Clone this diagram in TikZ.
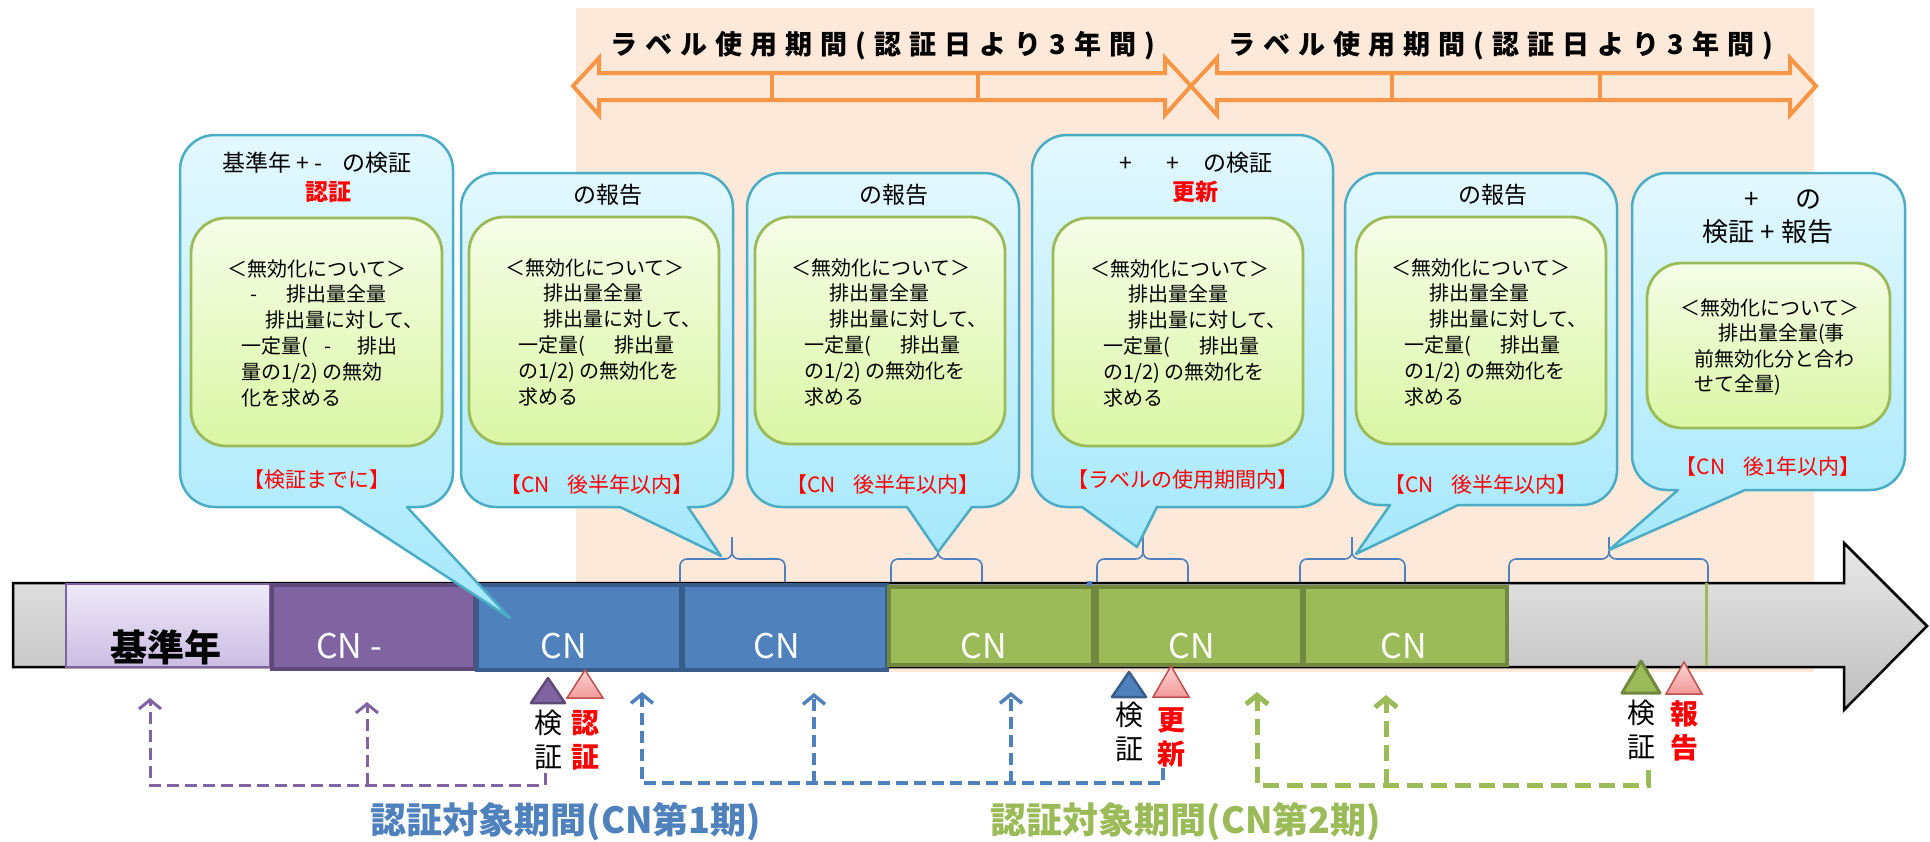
\documentclass[tikz,border=0pt]{standalone}
\usepackage{fontspec}
\setmainfont{Noto Sans CJK JP}
\usetikzlibrary{arrows.meta}
\definecolor{peach}{HTML}{FDE9D9}
\definecolor{orng}{HTML}{F79646}
\definecolor{bubline}{HTML}{4BACC6}
\definecolor{bubtop}{HTML}{E3F8FE}
\definecolor{bubbot}{HTML}{A5E8FB}
\definecolor{inline}{HTML}{9BBB59}
\definecolor{intop}{HTML}{F6FDE8}
\definecolor{inbot}{HTML}{DAF6A4}
\definecolor{purp}{HTML}{8064A2}
\definecolor{purpd}{HTML}{5F497A}
\definecolor{lpurtop}{HTML}{EFE9F8}
\definecolor{lpurbot}{HTML}{CBBDE3}
\definecolor{blu}{HTML}{4F81BD}
\definecolor{blud}{HTML}{385D8A}
\definecolor{grn}{HTML}{9BBB59}
\definecolor{grnd}{HTML}{71893F}
\definecolor{pinktop}{HTML}{FBD3D3}
\definecolor{pinkbot}{HTML}{F29A9A}
\definecolor{pinkd}{HTML}{C0504D}
\definecolor{gtop}{HTML}{E8E8E8}
\definecolor{gbot}{HTML}{BEBEBE}
\newcommand\fs[2]{\fontsize{#1}{#2}\selectfont}
\newcommand\spacedtxt[1]{\spacedA#1\relax}
\def\spacedA#1{\ifx\relax#1\else#1\kern8pt\expandafter\spacedA\fi}
\newcommand\bubble[8]{\path[bub] (#1,#2+35) arc[start angle=180,end angle=270,radius=35] -- (#3-35,#2) arc[start angle=270,end angle=360,radius=35] -- (#3,#4-35) arc[start angle=0,end angle=90,radius=35] -- (#6,#4) -- (#7,#8) -- (#5,#4) -- (#1+35,#4) arc[start angle=90,end angle=180,radius=35] -- cycle;}
\newcommand\dblarrow[2]{\draw[oarr] (#1,86) -- (#1+26,58) -- (#1+26,73) -- (#2-26,73) -- (#2-26,58) -- (#2,86) -- (#2-26,115) -- (#2-26,100) -- (#1+26,100) -- (#1+26,115) -- cycle;}
\newcommand\brc[3]{\draw[brc] (#1,582) -- (#1,559) -- (#3,559) -- (#3,537); \draw[brc] (#2,582) -- (#2,559) -- (#3,559) -- (#3,537);}
\newcommand\tri[5]{\path[#5] (#1,#2) -- (#1-#3,#4) -- (#1+#3,#4) -- cycle;}
\newcommand\cnbody{\hspace*{-13pt}＜無効化について＞\\
\hspace*{25pt}排出量全量\\
\hspace*{25pt}排出量に対して、\\
一定量(\hspace{30pt}排出量\\
の1/2)\hspace{4pt}の無効化を\\
求める}
\tikzset{
  bub/.style={draw=bubline,line width=2.5pt,top color=bubtop,bottom color=bubbot,line join=round},
  inbox/.style={draw=inline,line width=2.8pt,top color=intop,bottom color=inbot,rounded corners=35},
  body/.style={font=\fs{20}{25.8},align=left,anchor=north west,inner sep=0pt},
  ttl/.style={font=\fs{23}{27},inner sep=0pt},
  ttlb/.style={font=\fs{26}{30},inner sep=0pt},
  rbold/.style={font=\fs{23}{27}\bfseries,text=red,inner sep=0pt},
  rl/.style={font=\fs{21}{24},text=red,inner sep=0pt},
  oarr/.style={draw=orng,line width=4pt,line join=miter},
  lbl/.style={font=\fs{27}{30}\bfseries,inner sep=0pt},
  brc/.style={draw=blu,line width=1.6pt,rounded corners=7},
  barline/.style={draw=black,line width=2.5pt,top color=gtop,bottom color=gbot,line join=miter},
  segL/.style={draw=purp,line width=1.5pt,top color=lpurtop,bottom color=lpurbot},
  segP/.style={draw=purpd,line width=4pt,fill=purp},
  segB/.style={draw=blud,line width=4pt,fill=blu},
  segG/.style={draw=grnd,line width=4.5pt,fill=grn},
  cnw/.style={font=\fs{34}{38},text=white,inner sep=0pt},
  triP/.style={draw=purpd,line width=2.5pt,fill=purp,line join=round},
  triB/.style={draw=blud,line width=2.5pt,fill=blu,line join=round},
  triG/.style={draw=grnd,line width=3pt,fill=grn,line join=round},
  triR/.style={draw=pinkd,line width=1.5pt,top color=pinktop,bottom color=pinkbot},
  vl/.style={font=\fs{28}{34},align=center,inner sep=0pt},
  vlr/.style={font=\fs{28}{34}\bfseries,text=red,align=center,inner sep=0pt},
  tip/.style={-{Straight Barb[length=9pt,width=22pt]}},
  dpur/.style={draw=purp,line width=3pt,dash pattern=on 12pt off 6pt,tip},
  dblu/.style={draw=blu,line width=3.5pt,dash pattern=on 12pt off 6pt,tip},
  dgrn/.style={draw=grn,line width=5pt,dash pattern=on 16pt off 8pt,tip},
  bl/.style={font=\fs{36}{40}\bfseries,inner sep=0pt}
}
\begin{document}
\begin{tikzpicture}[x=1pt,y=-1pt]
\useasboundingbox (0,0) rectangle (1930,841);
\fill[peach] (576,8) rectangle (1814,672);
% timeline
\path[barline] (13,583) -- (1844,583) -- (1844,543) -- (1927,626) -- (1844,710) -- (1844,667) -- (13,667) -- cycle;
\path[segL] (66,584) rectangle (270,667);
\path[segP] (272,585) rectangle (475,669);
\path[segB] (477,585) rectangle (681,670);
\path[segB] (683,585) rectangle (887,670);
\path[segG] (889,587) rectangle (1093,665);
\path[segG] (1097,587) rectangle (1302,665);
\path[segG] (1304,587) rectangle (1507,665);
\draw[grn,line width=3pt] (1706,583) -- (1706,666);
\fill[blu] (1087,581) rectangle (1092,586);
\node[font=\fs{37}{40}\bfseries,inner sep=0pt] (kijun) at (166,647) {基準年};
\node[cnw] (cn0) at (349,646) {CN -};
\node[cnw] (cn1) at (564,646) {CN};
\node[cnw] (cn2) at (777,646) {CN};
\node[cnw] (cn3) at (984,646) {CN};
\node[cnw] (cn4) at (1192,646) {CN};
\node[cnw] (cn5) at (1404,646) {CN};
% braces
\brc{680}{785}{732}
\brc{891}{982}{938}
\brc{1097}{1188}{1143}
\brc{1300}{1405}{1352}
\brc{1509}{1708}{1609}
% orange arrows
\dblarrow{573}{1191}
\dblarrow{1191}{1816}
\draw[oarr] (772,73) -- (772,100);
\draw[oarr] (978,73) -- (978,100);
\draw[oarr] (1392,73) -- (1392,100);
\draw[oarr] (1600,73) -- (1600,100);
\node[lbl] (lab1) at (887,46) {\spacedtxt{ラベル使用期間(認証日より3年間)}};
\node[lbl] (lab2) at (1505,46) {\spacedtxt{ラベル使用期間(認証日より3年間)}};
% bubbles
\bubble{180}{135}{453}{507}{340}{407}{510}{618}
\bubble{461}{173}{733}{507}{620}{688}{721}{556}
\bubble{747}{173}{1019}{507}{907}{972}{938}{552}
\bubble{1032}{135}{1333}{507}{1082}{1157}{1137}{547}
\bubble{1345}{173}{1617}{505}{1390}{1458}{1356}{554}
\bubble{1632}{173}{1905}{490}{1678}{1745}{1609}{550}
\path[inbox] (191,218) rectangle (442,446);
\path[inbox] (469,217) rectangle (719,444);
\path[inbox] (755,217) rectangle (1005,444);
\path[inbox] (1053,218) rectangle (1303,446);
\path[inbox] (1356,217) rectangle (1606,444);
\path[inbox] (1647,263) rectangle (1890,428);
% bubble titles
\node[ttl] (b1t) at (317,163) {基準年 + -\hspace{20pt}の検証};
\node[rbold] (b1r) at (328,192) {認証};
\node[ttl] (b2t) at (608,195) {の報告};
\node[ttl] (b3t) at (894,195) {の報告};
\node[ttl] (b4t) at (1196,163) {+\hspace{34pt}+\hspace{24pt}の検証};
\node[rbold] (b4r) at (1195,192) {更新};
\node[ttl] (b5t) at (1493,195) {の報告};
\node[ttlb] (b6t) at (1783,200) {+\hspace{36pt}の};
\node[ttlb] (b6u) at (1768,232) {検証\hspace{6pt}+\hspace{6pt}報告};
% bodies
\node[body] (b1b) at (241,259) {\hspace*{-14pt}＜無効化について＞\\
\hspace*{9pt}-\hspace{29pt}排出量全量\\
\hspace*{24pt}排出量に対して、\\
一定量(\hspace{17pt}-\hspace{26pt}排出\\
量の1/2)\hspace{4pt}の無効\\
化を求める};
\node[body] (b2b) at (518,258) {\cnbody};
\node[body] (b3b) at (804,258) {\cnbody};
\node[body] (b4b) at (1103,259) {\cnbody};
\node[body] (b5b) at (1404,258) {\cnbody};
\node[body,font=\fs{20}{25.5}] (b6b) at (1694,298) {\hspace*{-14pt}＜無効化について＞\\
\hspace*{24pt}排出量全量(事\\
前無効化分と合わ\\
せて全量)};
% red labels
\node[rl] (b1l) at (317,480) {【検証までに】};
\node[rl] (b2l) at (597,485) {【CN\hspace{18pt}後半年以内】};
\node[rl] (b3l) at (883,485) {【CN\hspace{18pt}後半年以内】};
\node[rl] (b4l) at (1183,480) {【ラベルの使用期間内】};
\node[rl] (b5l) at (1481,485) {【CN\hspace{18pt}後半年以内】};
\node[rl] (b6l) at (1768,467) {【CN\hspace{18pt}後1年以内】};
% markers
\tri{548}{678}{17}{703}{triP}
\tri{585}{670}{18}{698}{triR}
\tri{1129}{672}{17}{697}{triB}
\tri{1171}{666}{18}{697}{triR}
\tri{1641}{661}{19}{693}{triG}
\tri{1684}{662}{18}{694}{triR}
\node[vl] (v1) at (548,740) {検\\証};
\node[vlr] (v2) at (585,740) {認\\証};
\node[vl] (v3) at (1129,732) {検\\証};
\node[vlr] (v4) at (1171,737) {更\\新};
\node[vl] (v5) at (1641,730) {検\\証};
\node[vlr] (v6) at (1684,731) {報\\告};
% dashed connectors
\coordinate (pv) at (545,773);
\coordinate (pc1) at (150,785);
\coordinate (pt1) at (150,698);
\coordinate (pb2) at (367,785);
\coordinate (pt2) at (367,702);
\draw[dpur] (pv) |- (pc1) -- (pt1);
\draw[dpur] (pb2) -- (pt2);
\coordinate (bv) at (1163,768);
\coordinate (bc1) at (642,783);
\coordinate (bt1) at (642,692);
\coordinate (bb2) at (814,783);
\coordinate (bt2) at (814,693);
\coordinate (bb3) at (1011,783);
\coordinate (bt3) at (1011,692);
\draw[dblu] (bv) |- (bc1) -- (bt1);
\draw[dblu] (bb2) -- (bt2);
\draw[dblu] (bb3) -- (bt3);
\coordinate (gv) at (1648,770);
\coordinate (gc1) at (1257,785);
\coordinate (gt1) at (1257,692);
\coordinate (gb2) at (1386,785);
\coordinate (gt2) at (1386,695);
\draw[dgrn] (gv) |- (gc1) -- (gt1);
\draw[dgrn] (gb2) -- (gt2);
% captions
\node[bl,text=blu] (cap1) at (566,822) {認証対象期間(CN第1期)};
\node[bl,text=grn] (cap2) at (1186,822) {認証対象期間(CN第2期)};
\end{tikzpicture}
\end{document}
